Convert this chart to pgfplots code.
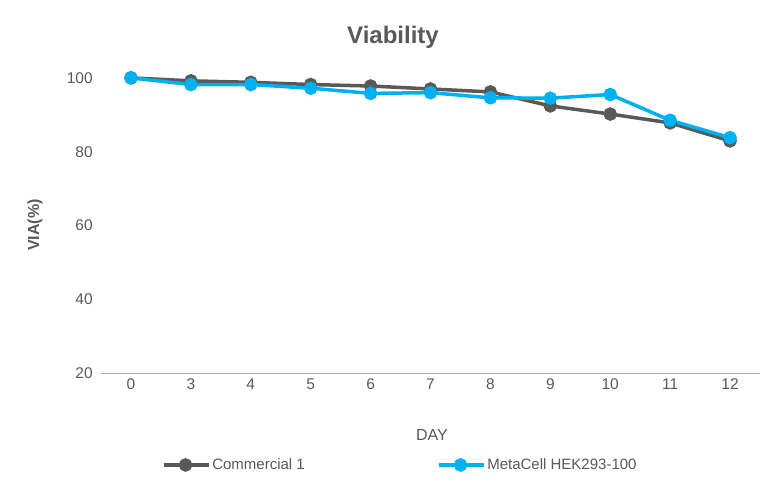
\documentclass[border=0pt]{standalone}
\usepackage{pgfplots}
\pgfplotsset{compat=1.18}
\usepackage{fontspec}
\setmainfont{Liberation Sans}
\definecolor{dg}{HTML}{595959}
\definecolor{cy}{HTML}{00B0F0}
\begin{document}
\begin{tikzpicture}
\path[use as bounding box] (-101pt,-114pt) rectangle (681pt,373pt);
\begin{axis}[at={(0pt,0pt)},anchor=south west,
 scale only axis, width=659pt, height=332pt,
 xmin=-0.5, xmax=10.5, ymin=20, ymax=110,
 xtick={0,...,10}, xticklabels={0,3,4,5,6,7,8,9,10,11,12},
 ytick={20,40,60,80,100},
 axis y line=none, axis x line*=bottom,
 x axis line style={draw=gray!60,line width=0.8pt,-},
 major tick length=0pt,
 xticklabel style={font=\fontsize{15.5}{17}\selectfont, text=dg, yshift=-2pt},
 /pgf/number format/assume math mode=true,
 clip=false,
 legend columns=2,
 legend style={draw=none, at={(0.454,-0.277)}, anchor=center, font=\fontsize{15}{17}\selectfont, text=dg, /tikz/every even column/.append style={column sep=130pt}},
 legend image code/.code={\draw[#1] (0pt,0pt) -- (45pt,0pt); \path[#1] plot[only marks] coordinates {(22pt,0pt)};},
]
\foreach \v in {20,40,60,80,100} {\edef\tmp{\noexpand\node[anchor=east,font=\noexpand\fontsize{15.5}{17}\noexpand\selectfont,text=dg] at (axis cs:-0.58,\v) {\v};}\tmp}
\addplot[dg, line width=3.5pt, mark=*, mark size=5pt] coordinates {(0,100)(1,99.2)(2,98.8)(3,98.2)(4,97.8)(5,97)(6,96.2)(7,92.4)(8,90.2)(9,87.8)(10,82.9)};
\addlegendentry{Commercial 1}
\addplot[cy, line width=3.5pt, mark=*, mark size=5pt] coordinates {(0,100)(1,98.2)(2,98.2)(3,97.2)(4,95.8)(5,96.0)(6,94.6)(7,94.5)(8,95.5)(9,88.5)(10,83.8)};
\addlegendentry{MetaCell HEK293-100}
\end{axis}
\node[font=\bfseries\fontsize{24}{28}\selectfont, text=dg] at (292pt,336pt) {Viability};
\node[font=\bfseries\fontsize{16}{18}\selectfont, text=dg, rotate=90] at (-66pt,148pt) {VIA(\%)};
\node[font=\fontsize{16}{18}\selectfont, text=dg] at (331pt,-62pt) {DAY};
\end{tikzpicture}
\end{document}
